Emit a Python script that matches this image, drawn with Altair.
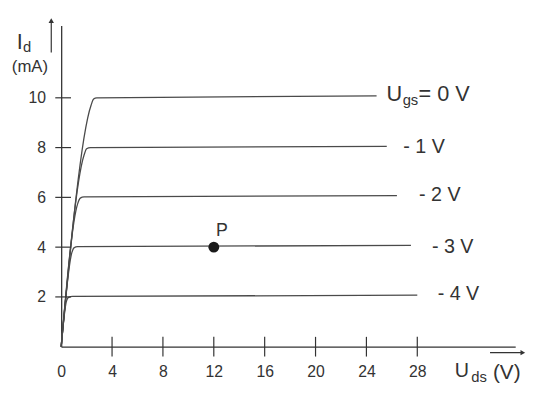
import altair as alt
import pandas as pd

# ---- data (Uds in V, Id in mA) ----
series_names = ["0 V", "-1 V", "-2 V", "-3 V", "-4 V"]
vds_0 = [0, 2.35, 2.55, 2.8, 24.8]
id_0 = [0, 9.7, 9.95, 10.0, 10.08]
vds_1 = [0, 1.8, 2.0, 2.3, 25.6]
id_1 = [0, 7.7, 7.95, 8.0, 8.05]
vds_2 = [0, 1.3, 1.5, 1.8, 26.4]
id_2 = [0, 5.75, 5.97, 6.02, 6.07]
vds_3 = [0, 0.85, 1.0, 1.3, 27.5]
id_3 = [0, 3.8, 3.97, 4.02, 4.07]
vds_4 = [0, 0.4, 0.55, 0.9, 28.0]
id_4 = [0, 1.8, 1.97, 2.02, 2.07]

x_ticks = [0, 4, 8, 12, 16, 20, 24, 28]
x_cross_ticks = [4, 8, 12, 16, 20, 24, 28]
y_ticks = [2, 4, 6, 8, 10]

point_p = {"x": [12.0], "y": [4.0]}

# annotation texts (position in data units, font size)
txt_text = ["I", "d", "(mA)", "U", "gs", "= 0 V", "- 1 V", "- 2 V", "- 3 V", "- 4 V", "P", "U", "ds", "(V)"]
txt_x = [-3.5, -3.0, -3.88, 25.58, 26.85, 28.1, 26.9, 28.14, 29.15, 29.6, 12.17, 30.95, 32.25, 33.95]
txt_y = [12.25, 12.02, 11.23, 10.16, 9.9, 10.16, 8.04, 6.11, 4.01, 2.11, 4.66, -1.0, -1.23, -1.07]
txt_size = [22, 15, 17, 22, 15, 22, 20, 20, 20, 20, 18, 20, 15, 21]

# arrows beside axis titles
yarrow_x = [-0.78]
yarrow_y = [11.82, 13.1]
xarrow_x = [33.72, 36.3]
xarrow_y = [-0.24]

INK = "#333333"
LINE = "#4a4a4a"
FONT = "Liberation Sans"

xs = alt.Scale(domain=[0, 35.7], nice=False, zero=False)
ys = alt.Scale(domain=[0, 12.9], nice=False, zero=False)

rows = []
for name, vx, vy in zip(series_names, [vds_0, vds_1, vds_2, vds_3, vds_4],
                        [id_0, id_1, id_2, id_3, id_4]):
    for i, (a, b) in enumerate(zip(vx, vy)):
        rows.append({"series": name, "i": i, "x": a, "y": b})
curves_df = pd.DataFrame(rows)

base_axes = alt.Chart(pd.DataFrame({"x": [0], "y": [0]})).mark_point(opacity=0).encode(
    x=alt.X("x:Q", scale=xs, axis=alt.Axis(values=x_ticks, title=None, ticks=False, grid=False,
                                             domainColor=INK, domainWidth=1.3, labelFont=FONT,
                                             labelFontSize=16, labelColor=INK, labelPadding=17,
                                             labelFlush=False, labelOverlap=False)),
    y=alt.Y("y:Q", scale=ys, axis=alt.Axis(values=y_ticks, title=None, ticks=False, grid=False,
                                             domainColor=INK, domainWidth=1.3, labelFont=FONT,
                                             labelFontSize=16, labelColor=INK, labelPadding=16)),
)

curves = alt.Chart(curves_df).mark_line(color=LINE, strokeWidth=1.3, interpolate="monotone").encode(
    x=alt.X("x:Q", scale=xs), y=alt.Y("y:Q", scale=ys), detail="series:N", order="i:Q"
)

xt = alt.Chart(pd.DataFrame({"x": x_cross_ticks, "y": [0] * len(x_cross_ticks)})).mark_tick(
    orient="vertical", size=20, thickness=1.2, color=INK, opacity=1
).encode(x=alt.X("x:Q", scale=xs), y=alt.Y("y:Q", scale=ys))

yt = alt.Chart(pd.DataFrame({"x": [0] * len(y_ticks), "y": y_ticks})).mark_tick(
    orient="horizontal", size=16, thickness=1.2, color=INK, opacity=1, xOffset=2
).encode(x=alt.X("x:Q", scale=xs), y=alt.Y("y:Q", scale=ys))

pt = alt.Chart(pd.DataFrame(point_p)).mark_circle(size=120, color="#1a1a1a", opacity=1).encode(
    x=alt.X("x:Q", scale=xs), y=alt.Y("y:Q", scale=ys)
)

texts = alt.Chart(pd.DataFrame({"t": txt_text, "x": txt_x, "y": txt_y, "s": txt_size})).mark_text(
    align="left", baseline="middle", font=FONT, color=INK
).encode(x=alt.X("x:Q", scale=xs), y=alt.Y("y:Q", scale=ys), text="t:N",
         size=alt.Size("s:Q", scale=None, legend=None))

yarrow_line = alt.Chart(pd.DataFrame({"x": yarrow_x, "y": [yarrow_y[0]], "y2": [yarrow_y[1]]})).mark_rule(
    color=INK, strokeWidth=1.2).encode(x=alt.X("x:Q", scale=xs), y=alt.Y("y:Q", scale=ys), y2="y2:Q")
yarrow_head = alt.Chart(pd.DataFrame({"x": yarrow_x, "y": [yarrow_y[1]]})).mark_point(
    shape="triangle-up", filled=True, size=30, color=INK, opacity=1).encode(
    x=alt.X("x:Q", scale=xs), y=alt.Y("y:Q", scale=ys))

xarrow_line = alt.Chart(pd.DataFrame({"x": [xarrow_x[0]], "x2": [xarrow_x[1]], "y": xarrow_y})).mark_rule(
    color=INK, strokeWidth=1.2).encode(x=alt.X("x:Q", scale=xs), x2="x2:Q", y=alt.Y("y:Q", scale=ys))
xarrow_head = alt.Chart(pd.DataFrame({"x": [xarrow_x[1]], "y": xarrow_y})).mark_point(
    shape="triangle-right", filled=True, size=30, color=INK, opacity=1).encode(
    x=alt.X("x:Q", scale=xs), y=alt.Y("y:Q", scale=ys))

chart = alt.layer(
    base_axes, curves, xt, yt, pt, texts, yarrow_line, yarrow_head, xarrow_line, xarrow_head
).properties(
    width=461, height=326,
    padding={"left": 54, "top": 15, "right": 14, "bottom": 37},
    autosize=alt.AutoSizeParams(type="none"),
    background="white",
).configure_view(stroke=None)

chart.save("out.html", embed_options={"renderer": "svg", "actions": False})
